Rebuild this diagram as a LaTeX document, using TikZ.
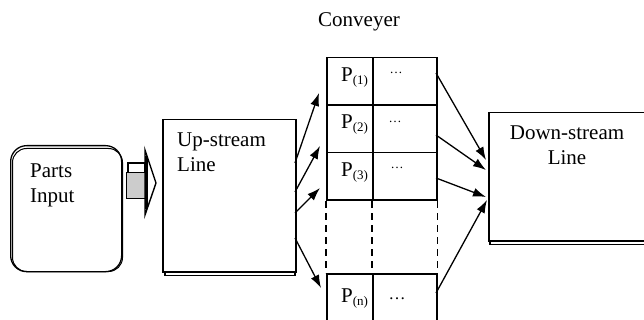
\documentclass[tikz,border=0pt]{standalone}
\usepackage{fontspec}
\setmainfont{Liberation Serif}
\usetikzlibrary{arrows.meta}
\begin{document}
\begin{tikzpicture}[x=1pt,y=-1pt,
  box/.style={draw,line width=1.5pt,inner sep=0pt,fill=white},
  shadowline/.style={draw,line width=1.2pt},
  conn/.style={line width=1.3pt,-{Latex[length=13pt,width=9pt]}},
  lbl/.style={inner sep=0pt,font=\fontsize{21}{25}\selectfont},
  cell/.style={draw,line width=1.5pt,inner sep=0pt,minimum height=47.5pt,anchor=north west},
  pcell/.style={cell,minimum width=46pt},
  dcell/.style={cell,minimum width=64pt},
  dots/.style={inner sep=0pt,anchor=base,font=\fontsize{13}{13}\selectfont},
  vdash/.style={line width=1.5pt,dash pattern=on 7pt off 5pt}]
\useasboundingbox (0,0) rectangle (644,320);

% Parts input
\node[draw,line width=1.3pt,rounded corners=16pt,minimum width=111pt,minimum height=126pt,anchor=north west,inner sep=0pt] (parts) at (10,145) {};
\node[draw,line width=1pt,rounded corners=14pt,minimum width=110pt,minimum height=123pt,anchor=north west,inner sep=0pt] (partsb) at (12,148) {};
\node[lbl,anchor=base west] (ptxt1) at (30,178) {Parts};
\node[lbl,anchor=base west] (ptxt2) at (30,203) {Input};

% block arrow
\node[draw,line width=1.1pt,fill=gray!40,minimum width=20pt,minimum height=26pt,anchor=north west,inner sep=0pt] (barbody) at (126,172) {};
\draw[line width=1.1pt] (128,172) -- (128,163) -- (145,163) -- (145,172);
\filldraw[fill=white,line width=1.4pt] (145,150) -- (156,183) -- (145,215) -- cycle;
\draw[line width=2.4pt] (146.5,156) -- (146.5,209);

% Up-stream line
\draw[shadowline] (165,271) rectangle (295,275.5);
\node[box,minimum width=133pt,minimum height=152pt,anchor=north west] (up) at (162,119) {};
\node[lbl,anchor=base west] (utxt1) at (177,147) {Up-stream};
\node[lbl,anchor=base west] (utxt2) at (177,172) {Line};

% Down-stream line
\draw[shadowline] (490,240) rectangle (660,244.5);
\node[box,minimum width=170pt,minimum height=128pt,anchor=north west] (down) at (488,112) {};
\node[lbl,anchor=base] (dtxt1) at (567,140) {Down-stream};
\node[lbl,anchor=base] (dtxt2) at (567,165) {Line};

% Conveyer
\node[lbl,anchor=base] (conv) at (359,27) {Conveyer};
\node[pcell] (p1) at (326,57) {};
\node[dcell] (d1) at (372,57) {};
\node[pcell] (p2) at (326,104.5) {};
\node[dcell] (d2) at (372,104.5) {};
\node[pcell] (p3) at (326,152) {};
\node[dcell] (d3) at (372,152) {};
\node[pcell] (pn) at (326,273) {};
\node[dcell] (dn) at (372,273) {};
\draw[vdash] (p3.south west) -- (pn.north west);
\draw[vdash] (d3.south west) -- (dn.north west);
\draw[vdash] (d3.south east) -- (dn.north east);

\node[lbl,anchor=base west] (l1) at (341,82) {P\raisebox{-3pt}{\fontsize{13}{13}\selectfont(1)}};
\node[lbl,anchor=base west] (l2) at (341,129) {P\raisebox{-3pt}{\fontsize{13}{13}\selectfont(2)}};
\node[lbl,anchor=base west] (l3) at (341,177) {P\raisebox{-3pt}{\fontsize{13}{13}\selectfont(3)}};
\node[lbl,anchor=base west] (ln) at (341,302) {P\raisebox{-3pt}{\fontsize{13}{13}\selectfont(n)}};
\node[dots] (e1) at (396,73.5) {\dots};
\node[dots] (e2) at (395,122.5) {\dots};
\node[dots] (e3) at (397,168.5) {\dots};
\node[dots,font=\fontsize{17}{17}\selectfont] (en) at (397,299) {\dots};

% connector end points
\coordinate (us1) at (295,163);
\coordinate (us2) at (295,192);
\coordinate (us3) at (295,213);
\coordinate (us4) at (295,238);
\coordinate (ct1) at (319,93);
\coordinate (ct2) at (320,146);
\coordinate (ct3) at (320,188);
\coordinate (ct4) at (321,288);
\coordinate (cs1) at (436,73);
\coordinate (cs2) at (436,135);
\coordinate (cs3) at (436,178);
\coordinate (cs4) at (436,293);
\coordinate (dt1) at (486,160);
\coordinate (dt2) at (486,170);
\coordinate (dt3) at (486,197);
\coordinate (dt4) at (487,200);

\draw[conn] (us1) -- (ct1);
\draw[conn] (us2) -- (ct2);
\draw[conn] (us3) -- (ct3);
\draw[conn] (us4) -- (ct4);
\draw[conn] (cs1) -- (dt1);
\draw[conn] (cs2) -- (dt2);
\draw[conn] (cs3) -- (dt3);
\draw[conn] (cs4) -- (dt4);
\end{tikzpicture}
\end{document}
